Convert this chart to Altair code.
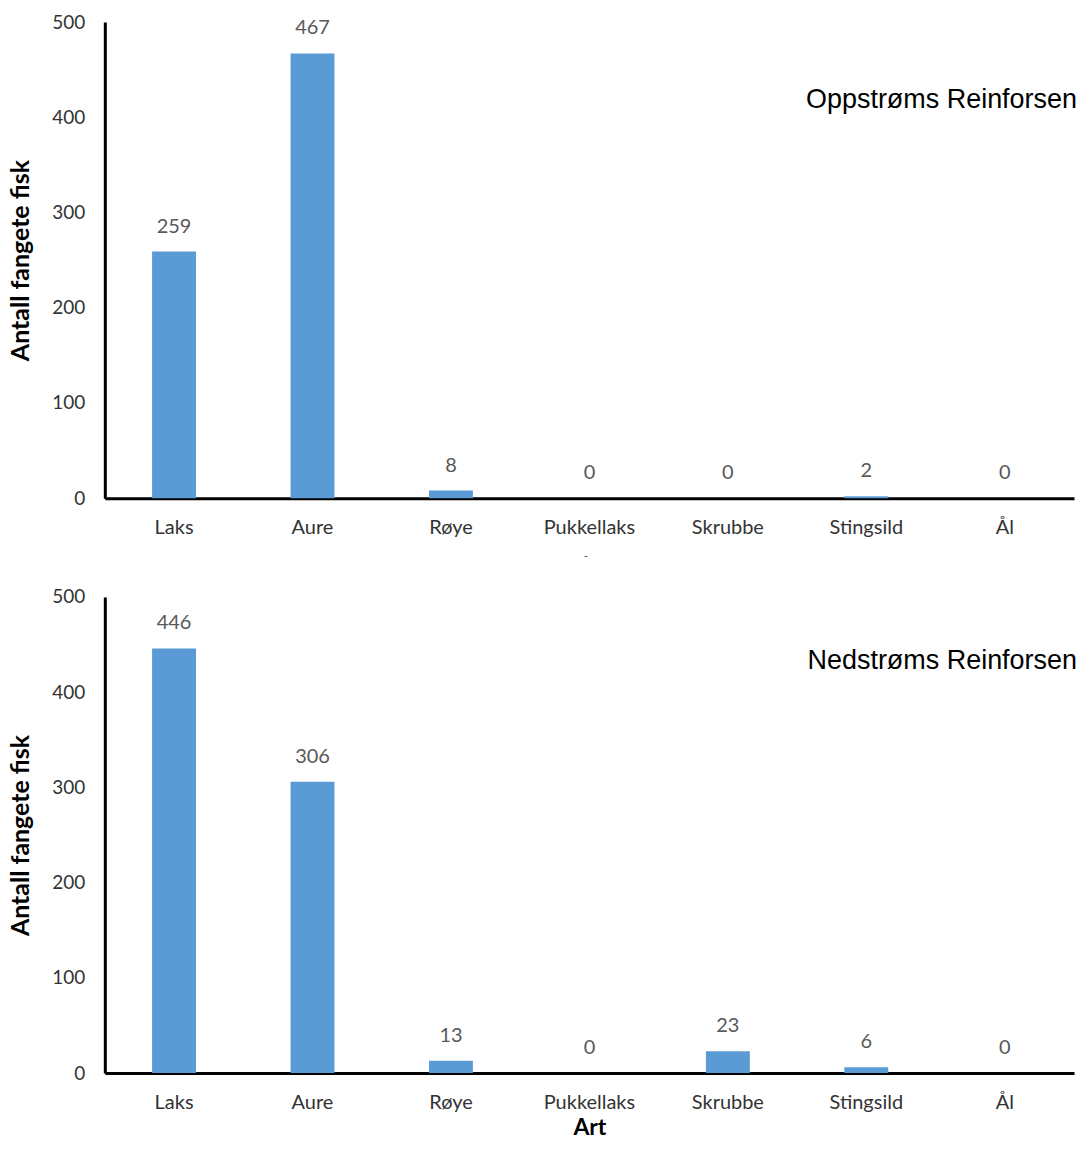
import altair as alt
import pandas as pd

species = ["Laks", "Aure", "Røye", "Pukkellaks", "Skrubbe", "Stingsild", "Ål"]
upstream = [259, 467, 8, 0, 0, 2, 0]
downstream = [446, 306, 13, 0, 23, 6, 0]
y_ticks = [0, 100, 200, 300, 400, 500]
panel_titles = ["Oppstrøms Reinforsen", "Nedstrøms Reinforsen"]

W = 971
H = 477
LABEL_FONT = "Lato"


def panel(values, label, show_x_title, label_y, extra_mark=False):
    df = pd.DataFrame({"Art": species, "Antall": values})
    x = alt.X(
        "Art:N",
        sort=species,
        scale=alt.Scale(paddingInner=0, paddingOuter=0),
        axis=alt.Axis(
            title="Art" if show_x_title else None,
            labelAngle=0,
            ticks=False,
            tickSize=0,
            labelPadding=19,
            labelFont=LABEL_FONT,
            labelFontSize=20,
            labelColor="#333333",
            domainColor="#000000",
            domainWidth=3,
            titleFont=LABEL_FONT,
            titleFontSize=23,
            titleFontWeight="bold",
            titleColor="#000000",
            titlePadding=5,
        ),
    )
    y = alt.Y(
        "Antall:Q",
        scale=alt.Scale(domain=[0, 500], nice=False),
        axis=alt.Axis(
            title="Antall fangete fisk",
            values=y_ticks,
            grid=False,
            ticks=False,
            tickSize=0,
            labelPadding=20,
            labelFont=LABEL_FONT,
            labelFontSize=19,
            labelColor="#333333",
            domainColor="#000000",
            domainWidth=3,
            titleFont=LABEL_FONT,
            titleFontSize=25,
            titleFontWeight="bold",
            titleColor="#000000",
            titlePadding=18,
        ),
    )
    base = alt.Chart(df)
    bars = base.mark_bar(size=44, color="#5B9BD5").encode(x=x, y=y)
    texts = base.mark_text(
        baseline="middle", dy=-25, font=LABEL_FONT, fontSize=20, color="#595959"
    ).encode(x=alt.X("Art:N", sort=species), y="Antall:Q", text="Antall:Q")
    ann = alt.Chart(pd.DataFrame({"t": [label]})).mark_text(
        align="right", baseline="middle", font="Liberation Sans", fontSize=27, color="#000000"
    ).encode(x=alt.value(W + 3), y=alt.value(label_y), text="t:N")
    layers = [bars, texts, ann]
    if extra_mark:
        dash = alt.Chart(pd.DataFrame({"t": ["-"]})).mark_text(
            align="center", baseline="middle", font=LABEL_FONT, fontSize=12, color="#595959"
        ).encode(x=alt.value(482), y=alt.value(H + 58), text="t:N")
        layers.append(dash)
    return alt.layer(*layers).properties(width=W, height=H)


top = panel(upstream, panel_titles[0], False, 78, extra_mark=True)
bottom = panel(downstream, panel_titles[1], True, 64)

chart = (
    alt.vconcat(top, bottom, spacing=26)
    .properties(padding={"left": 0, "top": 4, "right": 0, "bottom": 0})
    .configure(background="white", view=alt.ViewConfig(strokeWidth=0))
)

chart.save("out.html", embed_options={"renderer": "svg", "actions": False})
